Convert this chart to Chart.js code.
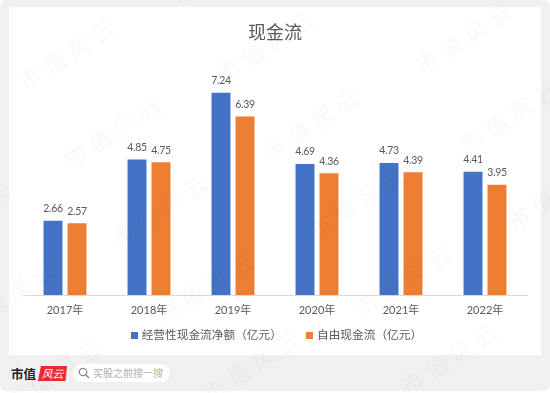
<!DOCTYPE html>
<html><head><meta charset="utf-8">
<script src="https://cdn.jsdelivr.net/npm/chart.js@4"></script>
<style>
html,body{margin:0;padding:0;background:#fff}
#card{position:absolute;left:0;top:0;width:550px;height:391px;background:#f0f0f0;border-radius:7px;overflow:hidden}
#inner{position:absolute;left:9px;top:7px;width:532px;height:348px;background:#fff}
#logo{position:absolute;left:11px;top:366px;font:700 12.5px "Noto Sans CJK SC",serif;color:#222;line-height:16px}
#red{position:absolute;left:38px;top:366px;width:29px;height:15px;background:#ee2a2e;color:#fff;font:italic 11px "Noto Sans CJK SC";line-height:15px;text-align:center;clip-path:polygon(10% 0,100% 0,95% 100%,0 100%)}
#pill{position:absolute;left:73px;top:364px;width:97px;height:18px;background:#fff;border-radius:9px;color:#b0b0b0;font:10px "Noto Sans CJK SC";line-height:18px;text-indent:20px}
#pill svg{position:absolute;left:5px;top:3px}
#wrap{position:absolute;left:0;top:0;width:550px;height:393px}
</style></head><body>
<div id="card"><div id="inner"></div>
<div id="logo">市值</div><div id="red">风云</div>
<div id="pill"><svg width="12" height="12" viewBox="0 0 12 12"><circle cx="5" cy="5" r="3.7" fill="none" stroke="#888" stroke-width="1.3"/><path d="M8 8l3 3" stroke="#888" stroke-width="1.5"/></svg>买股之前搜一搜</div></div>
<div id="wrap"><canvas id="c" width="550" height="393"></canvas></div>
<script>
const categories=["2017年","2018年","2019年","2020年","2021年","2022年"];
const operatingCash=[2.66,4.85,7.24,4.69,4.73,4.41];
const freeCash=[2.57,4.75,6.39,4.36,4.39,3.95];
const seriesNames=["经营性现金流净额（亿元）","自由现金流（亿元）"];
const seriesColors=["#4472c4","#ed7d31"];
const chartTitle="现金流";
const watermarkText="市值风云";
const CJK='Lato,"Noto Sans CJK SC"';
function swatch(color){const s=document.createElement("canvas");s.width=7;s.height=7;const g=s.getContext("2d");g.fillStyle=color;g.fillRect(0,0,7,7);return s;}
const barLabels={id:"barLabels",afterDatasetsDraw(ch){
 const g=ch.ctx;g.save();g.font='10.5px '+CJK;g.letterSpacing="-0.3px";g.fillStyle="#595959";g.textAlign="center";g.textBaseline="alphabetic";
 ch.data.datasets.forEach((d,i)=>{ch.getDatasetMeta(i).data.forEach((b,j)=>{g.fillText(d.data[j].toFixed(2),b.x,b.y-8.5);});});
 g.restore();}};
const watermark={id:"watermark",afterDraw(ch){
 const g=ch.ctx;g.save();g.font='22px "Noto Sans CJK SC"';g.fillStyle="rgba(0,0,0,0.03)";g.textAlign="center";g.textBaseline="middle";g.letterSpacing="7px";
 for(let a=-3;a<=5;a++)for(let b=-2;b<=4;b++){
  const x=70+46*a+198*b,y=53+78*a-8*b;
  if(x<-80||x>630||y<-60||y>450)continue;
  g.save();g.translate(x,y);g.rotate(-33*Math.PI/180);g.fillText(watermarkText,0,0);g.restore();
 }
 g.restore();}};
const legendShift={id:"legendShift",afterLayout(ch){ch.legend.left+=2.5;ch.legend.right+=2.5;}};
new Chart(document.getElementById("c"),{type:"bar",
 data:{labels:categories,datasets:[
  {label:seriesNames[0]+"\u2003\u2002",data:operatingCash,backgroundColor:seriesColors[0],borderWidth:0},
  {label:seriesNames[1],data:freeCash,backgroundColor:seriesColors[1],borderWidth:0}]},
 plugins:[barLabels,watermark,legendShift],
 options:{responsive:false,animation:false,
  layout:{padding:{left:23,right:23,top:21,bottom:41.5}},
  datasets:{bar:{categoryPercentage:0.571,barPercentage:0.79}},
  scales:{y:{display:false,min:0,max:9},
   x:{grid:{display:false},border:{color:"#d9d9d9",width:1},
    ticks:{color:"#595959",font:{size:11,family:CJK},padding:1,maxRotation:0}}},
  plugins:{
   title:{display:true,text:chartTitle,color:"#595959",font:{size:18,weight:"normal",family:CJK},padding:{top:1,bottom:0}},
   legend:{position:"bottom",labels:{usePointStyle:true,pointStyleWidth:3,boxWidth:7,boxHeight:7,padding:11.6,color:"#595959",font:{size:11.7,family:CJK},
    generateLabels(ch){return Chart.defaults.plugins.legend.labels.generateLabels(ch).map((it,i)=>({...it,pointStyle:swatch(seriesColors[i])}));}}},
   tooltip:{enabled:false}}}});
</script></body></html>
